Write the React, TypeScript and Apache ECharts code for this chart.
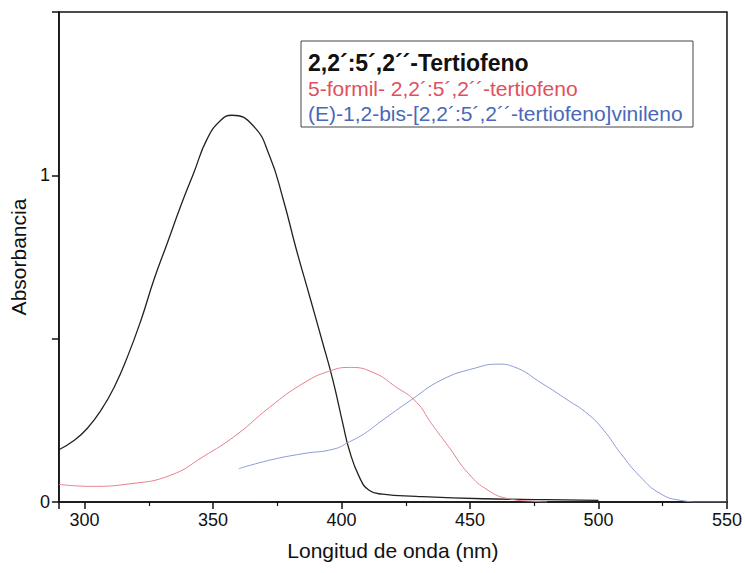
import React, { useEffect, useRef } from "react";
import * as echarts from "echarts";

const blackX = [290, 296, 301, 306.4, 311.6, 316.7, 322, 327, 332.2, 337.4, 342.5, 347.6, 352.8, 357.3, 365.7, 372, 377.3, 382.4, 387.6, 392.7, 396.6, 400.5, 403, 406.9, 410.7, 416, 429, 455, 480, 500];
const blackY = [0.16, 0.189, 0.225, 0.281, 0.353, 0.445, 0.558, 0.681, 0.793, 0.906, 1.008, 1.11, 1.167, 1.184, 1.151, 1.059, 0.926, 0.773, 0.629, 0.486, 0.374, 0.24, 0.159, 0.077, 0.036, 0.024, 0.0175, 0.01, 0.007, 0.005];

const redX = [290, 302, 318, 333.5, 346, 359, 372, 385, 395, 403.5, 413, 421, 429, 435, 441.7, 449.4, 457, 465, 475, 480];
const redY = [0.054, 0.048, 0.056, 0.082, 0.138, 0.205, 0.29, 0.363, 0.4, 0.412, 0.394, 0.353, 0.307, 0.24, 0.169, 0.087, 0.036, 0.01, 0.002, 0.0];

const blueX = [360, 372, 385, 397, 403, 409, 415, 427, 439, 452, 461, 467, 478, 488, 495.6, 502, 508.6, 516.3, 524, 532, 540, 550];
const blueY = [0.102, 0.128, 0.148, 0.162, 0.184, 0.21, 0.245, 0.312, 0.374, 0.41, 0.422, 0.414, 0.363, 0.312, 0.271, 0.22, 0.149, 0.077, 0.026, 0.005, 0.0, 0.0];

const legendLabels = [
  "2,2´:5´,2´´-Tertiofeno",
  "5-formil- 2,2´:5´,2´´-tertiofeno",
  "(E)-1,2-bis-[2,2´:5´,2´´-tertiofeno]vinileno",
];

const xName = "Longitud de onda (nm)";
const yName = "Absorbancia";

const FONT = "'Liberation Sans', Arial, sans-serif";

function zip(xs: number[], ys: number[]) {
  return xs.map((x, i) => [x, ys[i]]);
}

export default function App() {
  const ref = useRef<HTMLDivElement>(null);
  useEffect(() => {
    if (!ref.current) return;
    const chart = echarts.init(ref.current, undefined, { renderer: "svg" });
    const axisLine = { show: true, lineStyle: { color: "#111", width: 1.5 } };
    chart.setOption({
      animation: false,
      backgroundColor: "#fff",
      grid: {
        left: 55,
        right: 18,
        top: 12,
        bottom: 71,
        show: true,
        borderColor: "#111",
        borderWidth: 1.5,
        backgroundColor: "transparent",
      },
      xAxis: {
        type: "value",
        min: 290,
        max: 550,
        splitNumber: 5,
        name: xName,
        nameLocation: "middle",
        nameGap: 38,
        nameTextStyle: { fontSize: 21, color: "#111", fontFamily: FONT },
        axisLine,
        axisTick: { show: true, inside: false, length: 7, lineStyle: { color: "#111", width: 1.5 } },
        minorTick: { show: true, splitNumber: 2, length: 4, lineStyle: { color: "#111", width: 1.2 } },
        axisLabel: { showMinLabel: false, fontSize: 18, color: "#111", margin: 9, fontFamily: FONT },
        splitLine: { show: false },
      },
      yAxis: {
        type: "value",
        min: 0,
        max: 1.5,
        interval: 0.5,
        name: yName,
        nameLocation: "middle",
        nameGap: 23,
        nameTextStyle: { fontSize: 21, color: "#111", fontFamily: FONT },
        axisLine,
        axisTick: { show: true, inside: false, length: 7, lineStyle: { color: "#111", width: 1.5 } },
        axisLabel: {
          fontSize: 18,
          color: "#111",
          margin: 9,
          fontFamily: FONT,
          formatter: (v: number) => (v === 0 || v === 1 ? String(v) : ""),
        },
        splitLine: { show: false },
      },
      series: [
        {
          type: "line",
          data: zip(blackX, blackY),
          smooth: 0.5,
          showSymbol: false,
          lineStyle: { color: "#222", width: 1.3 },
        },
        {
          type: "line",
          data: zip(redX, redY),
          smooth: 0.5,
          showSymbol: false,
          lineStyle: { color: "#e8808c", width: 1 },
        },
        {
          type: "line",
          data: zip(blueX, blueY),
          smooth: 0.5,
          showSymbol: false,
          lineStyle: { color: "#8c9ad8", width: 1 },
        },
      ],
      graphic: [
        {
          type: "rect",
          shape: { x: 301, y: 41, width: 392, height: 86 },
          style: { fill: "#fff", stroke: "#444", lineWidth: 1 },
          z: 10,
        },
        {
          type: "text",
          x: 308,
          y: 63,
          z: 11,
          style: { text: legendLabels[0], fill: "#111", font: `bold 23px ${FONT}`, textVerticalAlign: "middle" },
        },
        {
          type: "text",
          x: 308,
          y: 88,
          z: 11,
          style: { text: legendLabels[1], fill: "#e0505e", font: `21px ${FONT}`, textVerticalAlign: "middle" },
        },
        {
          type: "text",
          x: 308,
          y: 113,
          z: 11,
          style: { text: legendLabels[2], fill: "#4a68b8", font: `21px ${FONT}`, textVerticalAlign: "middle" },
        },
      ],
    });
    return () => chart.dispose();
  }, []);
  return (
    <div
      ref={ref}
      style={{ position: "fixed", left: 0, top: 0, width: 745, height: 573, background: "#fff" }}
    />
  );
}
